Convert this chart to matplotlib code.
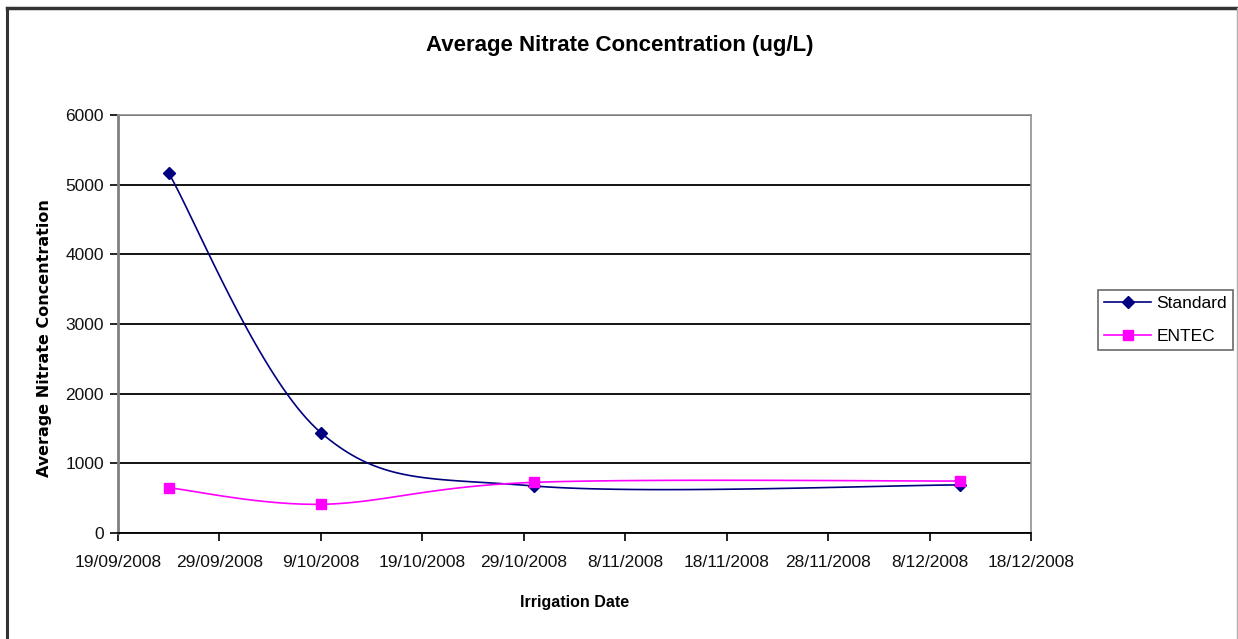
# Average nitrate concentration chart (Excel style)

import numpy as np
import matplotlib
matplotlib.use('Agg')
import matplotlib.pyplot as plt
import matplotlib.dates as mdates
from matplotlib.lines import Line2D
from matplotlib.ticker import FuncFormatter
import datetime as dt

# Data
dates = ['2008-09-24', '2008-10-09', '2008-10-30', '2008-12-11']
standard = [5165, 1440, 675, 690]
entec = [650, 412, 727, 746]
series_names = ['Standard', 'ENTEC']

font = ['Liberation Sans', 'DejaVu Sans']

x = mdates.date2num([dt.datetime.strptime(d, '%Y-%m-%d') for d in dates])


# Excel-like smoothed line (Catmull-Rom bezier through the points)
def smooth(xs, ys, n=40):
    xs = np.asarray(xs, float)
    ys = np.asarray(ys, float)
    px = np.concatenate([[xs[0]], xs, [xs[-1]]])
    py = np.concatenate([[ys[0]], ys, [ys[-1]]])
    outx, outy = [], []
    t = np.linspace(0, 1, n)
    for i in range(1, len(px) - 2):
        p0 = np.array([px[i], py[i]])
        p3 = np.array([px[i + 1], py[i + 1]])
        p1 = p0 + (p3 - np.array([px[i - 1], py[i - 1]])) / 6
        p2 = p3 - (np.array([px[i + 2], py[i + 2]]) - p0) / 6
        b = ((1 - t) ** 3)[:, None] * p0 + (3 * (1 - t) ** 2 * t)[:, None] * p1 \
            + (3 * (1 - t) * t ** 2)[:, None] * p2 + (t ** 3)[:, None] * p3
        outx.extend(b[:, 0])
        outy.extend(b[:, 1])
    return outx, outy


fig = plt.figure(figsize=(12.38, 6.39), dpi=100)
ax = fig.add_axes([118 / 1238, 1 - 533 / 639, (1031 - 118) / 1238, (533 - 115) / 639])

sx, sy = smooth(x, standard)
ex, ey = smooth(x, entec)
ax.plot(sx, sy, color='#000080', lw=1.2, zorder=3)
ax.plot(ex, ey, color='#FF00FF', lw=1.2, zorder=3)
ax.plot(x, standard, ls='none', marker='D', ms=6, color='#000080', zorder=4)
ax.plot(x, entec, ls='none', marker='s', ms=7, color='#FF00FF', zorder=4)

# legend handles
h1, = ax.plot([], [], color='#000080', lw=1.2, marker='D', ms=6)
h2, = ax.plot([], [], color='#FF00FF', lw=1.2, marker='s', ms=7)

ax.set_xlim(mdates.date2num(dt.datetime(2008, 9, 19)), mdates.date2num(dt.datetime(2008, 12, 18)))
ax.set_ylim(0, 6000)
ax.set_xticks(mdates.date2num([dt.datetime(2008, 9, 19) + dt.timedelta(days=10 * i) for i in range(10)]))
ax.xaxis.set_major_formatter(FuncFormatter(
    lambda v, p: '%d/%02d/%d' % (mdates.num2date(v).day, mdates.num2date(v).month, mdates.num2date(v).year)))
ax.set_yticks(range(0, 7000, 1000))

ax.grid(axis='y', color='black', lw=1.3)
ax.set_axisbelow(True)
for s in ['top', 'right']:
    ax.spines[s].set_color('#909090')
    ax.spines[s].set_linewidth(1.2)
ax.spines['left'].set_color('#808080')
ax.spines['left'].set_linewidth(2)
ax.spines['bottom'].set_color('black')
ax.spines['bottom'].set_linewidth(1.3)
ax.tick_params(axis='both', direction='out', length=6, width=1.2, color='black', labelsize=12.5)
ax.tick_params(axis='y', pad=4)
ax.tick_params(axis='x', pad=10)
for lab in ax.get_xticklabels() + ax.get_yticklabels():
    lab.set_family(font)
    lab.set_color('#111111')

fig.text(620 / 1238, 1 - 46 / 639, 'Average Nitrate Concentration (ug/L)', ha='center', va='center',
         fontsize=16, fontweight='bold', family=font)
fig.text(575 / 1238, 1 - 603 / 639, 'Irrigation Date', ha='center', va='center',
         fontsize=11.5, fontweight='bold', family=font)
fig.text(45 / 1238, 1 - 338 / 639, 'Average Nitrate Concentration', ha='center', va='center',
         rotation=90, fontsize=11.5, fontweight='bold', family='DejaVu Sans')

leg = fig.legend([h1, h2], series_names, loc='upper left',
                 bbox_to_anchor=(1098 / 1238, 1 - 290 / 639), prop={'family': font, 'size': 12.5},
                 frameon=True, fancybox=False, borderpad=0.35, handlelength=2.7,
                 handletextpad=0.3, labelspacing=1.0, borderaxespad=0)
leg.get_frame().set_edgecolor('#444444')
leg.get_frame().set_linewidth(1.2)

# outer chart border: dark top and left, faint right edge
W, H = 1238, 639
fig.lines.append(Line2D([7 / W, 1237 / W], [1 - 8 / H, 1 - 8 / H], transform=fig.transFigure,
                        color='#333333', lw=2.5))
fig.lines.append(Line2D([7 / W, 7 / W], [1 - 8 / H, 0], transform=fig.transFigure,
                        color='#333333', lw=2.2))
fig.lines.append(Line2D([1236.5 / W, 1236.5 / W], [1 - 8 / H, 0], transform=fig.transFigure,
                        color='#b0b0b0', lw=1))

fig.savefig('out.png', dpi=100)
